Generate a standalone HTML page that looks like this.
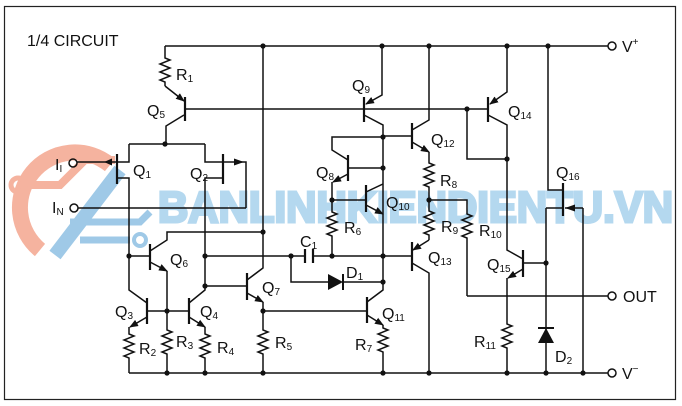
<!DOCTYPE html>
<html><head><meta charset="utf-8"><style>
html,body{margin:0;padding:0;background:#fff;}
svg{display:block;}
text{font-family:"Liberation Sans",sans-serif;fill:#111;}
</style></head><body>
<svg width="682" height="406" viewBox="0 0 682 406" xmlns="http://www.w3.org/2000/svg">
<defs>
<marker id="a" markerWidth="9" markerHeight="8" refX="8" refY="4" orient="auto" markerUnits="userSpaceOnUse"><path d="M0,0.5 L9,4 L0,7.5z" fill="#111"/></marker>
</defs>
<rect x="0" y="0" width="682" height="406" fill="#fff"/>
<g opacity="0.75">
<path d="M40 250 A52 52 0 0 1 110 165" fill="none" stroke="#f29a80" stroke-width="16"/>
<path d="M20 185 H60 L85 160 H115" fill="none" stroke="#f29a80" stroke-width="8"/>
<circle cx="18" cy="185" r="7" fill="none" stroke="#f29a80" stroke-width="5"/>
<path d="M55 255 L120 170" stroke="#7fb8df" stroke-width="14"/>
<path d="M80 240 H130 M70 222 H140 L150 212" fill="none" stroke="#7fb8df" stroke-width="7"/>
<circle cx="140" cy="240" r="6" fill="none" stroke="#7fb8df" stroke-width="4"/>
<text x="158" y="222" font-size="44" font-weight="bold" textLength="515" lengthAdjust="spacingAndGlyphs" style="fill:#9ccbea;stroke:#9ccbea;stroke-width:3">BANLINHKIENDIENTU.VN</text>
</g>
<rect x="4.5" y="6.5" width="671" height="393" fill="none" stroke="#222" stroke-width="1.2"/>
<text x="27" y="46" font-size="16">1/4 CIRCUIT</text>

<g fill="none" stroke="#111" stroke-width="1.5">
<path d="M165 46 H608 M129 373 H608 M467 296 H608"/>
<circle cx="612" cy="46" r="4"/><circle cx="612" cy="373" r="4"/><circle cx="612" cy="296" r="4"/>
<circle cx="73" cy="163" r="4"/><circle cx="74" cy="208" r="4"/>
<path d="M165 46 V58 l5 2 l-10 4 l10 4 l-10 4 l10 4 l-10 4 l5 2 V86"/>
<path d="M165 86 L184 101" marker-end="url(#a)"/>
<path d="M185 97 V121" stroke-width="2.2"/>
<path d="M184 115 L166 126 V144 M129 144 H205"/>
<path d="M185 109 H488"/>
<path d="M77 162 H117"/>
<path d="M117 154 V184" stroke-width="2.2"/>
<path d="M129 144 V162 H117 M117 178 H129 V290 L147 303"/>
<path d="M205 144 V162 H246 V208 M78 208 H246"/>
<path d="M223 154 V184" stroke-width="2.2"/>
<path d="M223 178 H205 V290 L189 303"/>
<path d="M129 256 H150"/>
<path d="M150 244 V270" stroke-width="2.2"/>
<path d="M150 251 L167 240 V232 H263"/>
<path d="M150 262 L167 271" marker-end="url(#a)"/>
<path d="M167 271 V330 l5 2 l-10 4 l10 4 l-10 4 l10 4 l-10 4 l5 2 V373"/>
<path d="M147 311 H189"/>
<path d="M147 298 V324 M189 298 V324" stroke-width="2.2"/>
<path d="M147 317 L130 327" marker-end="url(#a)"/>
<path d="M189 317 L205 327" marker-end="url(#a)"/>
<path d="M129 327 V334 l5 2 l-10 4 l10 4 l-10 4 l10 4 l-10 4 l5 2 V373"/>
<path d="M205 327 V334 l5 2 l-10 4 l10 4 l-10 4 l10 4 l-10 4 l5 2 V373"/>
<path d="M205 256 H291 M205 286 H247"/>
<path d="M247 273 V300" stroke-width="2.2"/>
<path d="M247 280 L263 268 V46"/>
<path d="M247 293 L263 302" marker-end="url(#a)"/>
<path d="M263 302 V330 l5 2 l-10 4 l10 4 l-10 4 l10 4 l-10 4 l5 2 V373 M263 311 H367"/>
<path d="M291 256 H305 M313 256 H412"/>
<path d="M305 249 V263 M313 249 V263" stroke-width="2.2"/>
<path d="M291 256 V282 H328 M343 282 H383"/>
<path d="M343 274 V290" stroke-width="2"/>
<path d="M364 97 V122" stroke-width="2.2"/>
<path d="M382 46 V95 L366 104" marker-end="url(#a)"/>
<path d="M364 115 L383 125 V290 L367 302"/>
<path d="M367 297 V323" stroke-width="2.2"/>
<path d="M367 315 L383 325" marker-end="url(#a)"/>
<path d="M383 325 V328 l5 2 l-10 4 l10 4 l-10 4 l10 4 l-10 4 l5 2 V373"/>
<path d="M332 200 H366"/>
<path d="M366 185 V212" stroke-width="2.2"/>
<path d="M366 192 L383 184"/>
<path d="M366 205 L383 214" marker-end="url(#a)"/>
<path d="M348 168 H383"/>
<path d="M348 155 V181" stroke-width="2.2"/>
<path d="M383 137 H332 V150 L348 160"/>
<path d="M348 174 L333 182" marker-end="url(#a)"/>
<path d="M332 182 V212 l5 2 l-10 4 l10 4 l-10 4 l10 4 l-10 4 l5 2 V256"/>
<path d="M383 136 H412"/>
<path d="M412 123 V149" stroke-width="2.2"/>
<path d="M412 130 L429 120 V46"/>
<path d="M412 142 L429 152" marker-end="url(#a)"/>
<path d="M429 152 V163 l5 2 l-10 4 l10 4 l-10 4 l10 4 l-10 4 l5 2 V211 l5 2 l-10 4 l10 4 l-10 4 l10 4 l-10 4 l5 2 V240"/>
<path d="M429 240 L413 250" marker-end="url(#a)"/>
<path d="M412 242 V271" stroke-width="2.2"/>
<path d="M412 263 L429 273 V373"/>
<path d="M429 200 H467 V214 l5 2 l-10 4 l10 4 l-10 4 l10 4 l-10 4 l5 2 V296"/>
<path d="M488 97 V122" stroke-width="2.2"/>
<path d="M507 46 V92 L490 104" marker-end="url(#a)"/>
<path d="M488 115 L507 125 V250 L523 259 M467 109 V159 H507"/>
<path d="M523 250 V277" stroke-width="2.2"/>
<path d="M523 269 L508 278" marker-end="url(#a)"/>
<path d="M507 278 V324 l5 2 l-10 4 l10 4 l-10 4 l10 4 l-10 4 l5 2 V373"/>
<path d="M523 263 H546"/>
<path d="M548 46 V190 H563"/>
<path d="M563 183 V216" stroke-width="2.2"/>
<path d="M583 208 H565 M546 208 H563 M546 208 V373 M583 208 V373"/>
<path d="M538 328 H554" stroke-width="2"/>
</g>
<g fill="#111">
<polygon points="104,162 112,158.5 112,165.5"/>
<polygon points="244,162 234,158.5 234,165.5"/>
<polygon points="565,208 575,204.5 575,211.5"/>
<polygon points="328,274 328,290 343,282"/>
<polygon points="538,343 554,343 546,328"/>
<circle cx="263" cy="46" r="2.6"/><circle cx="382" cy="46" r="2.6"/><circle cx="429" cy="46" r="2.6"/><circle cx="507" cy="46" r="2.6"/><circle cx="548" cy="46" r="2.6"/>
<circle cx="165" cy="144" r="2.6"/><circle cx="129" cy="256" r="2.6"/><circle cx="263" cy="232" r="2.6"/><circle cx="167" cy="311" r="2.6"/>
<circle cx="205" cy="256" r="2.6"/><circle cx="205" cy="286" r="2.6"/><circle cx="263" cy="311" r="2.6"/>
<circle cx="291" cy="256" r="2.6"/><circle cx="332" cy="256" r="2.6"/><circle cx="383" cy="256" r="2.6"/><circle cx="383" cy="282" r="2.6"/>
<circle cx="332" cy="200" r="2.6"/><circle cx="383" cy="137" r="2.6"/><circle cx="383" cy="168" r="2.6"/><circle cx="429" cy="200" r="2.6"/>
<circle cx="467" cy="109" r="2.6"/><circle cx="507" cy="159" r="2.6"/><circle cx="546" cy="263" r="2.6"/>
<circle cx="167" cy="373" r="2.6"/><circle cx="205" cy="373" r="2.6"/><circle cx="263" cy="373" r="2.6"/><circle cx="383" cy="373" r="2.6"/><circle cx="429" cy="373" r="2.6"/><circle cx="507" cy="373" r="2.6"/><circle cx="546" cy="373" r="2.6"/><circle cx="583" cy="373" r="2.6"/>
</g>
<g font-size="16">
<text x="176" y="80">R<tspan font-size="10" dy="2">1</tspan></text>
<text x="147" y="116">Q<tspan font-size="10" dy="2">5</tspan></text>
<text x="133" y="176">Q<tspan font-size="10" dy="2">1</tspan></text>
<text x="190" y="179">Q<tspan font-size="10" dy="2">2</tspan></text>
<text x="55" y="170">I<tspan font-size="10" dy="2">I</tspan></text>
<text x="52" y="213">I<tspan font-size="10" dy="2">N</tspan></text>
<text x="316" y="178">Q<tspan font-size="10" dy="2">8</tspan></text>
<text x="344" y="233">R<tspan font-size="10" dy="2">6</tspan></text>
<text x="386" y="208">Q<tspan font-size="10" dy="2">10</tspan></text>
<text x="300" y="247">C<tspan font-size="10" dy="2">1</tspan></text>
<text x="346" y="278">D<tspan font-size="10" dy="2">1</tspan></text>
<text x="352" y="91">Q<tspan font-size="10" dy="2">9</tspan></text>
<text x="431" y="145">Q<tspan font-size="10" dy="2">12</tspan></text>
<text x="508" y="117">Q<tspan font-size="10" dy="2">14</tspan></text>
<text x="440" y="186">R<tspan font-size="10" dy="2">8</tspan></text>
<text x="441" y="232">R<tspan font-size="10" dy="2">9</tspan></text>
<text x="479" y="236">R<tspan font-size="10" dy="2">10</tspan></text>
<text x="428" y="263">Q<tspan font-size="10" dy="2">13</tspan></text>
<text x="556" y="178">Q<tspan font-size="10" dy="2">16</tspan></text>
<text x="487" y="270">Q<tspan font-size="10" dy="2">15</tspan></text>
<text x="474" y="347">R<tspan font-size="10" dy="2">11</tspan></text>
<text x="555" y="362">D<tspan font-size="10" dy="2">2</tspan></text>
<text x="355" y="350">R<tspan font-size="10" dy="2">7</tspan></text>
<text x="382" y="319">Q<tspan font-size="10" dy="2">11</tspan></text>
<text x="275" y="348">R<tspan font-size="10" dy="2">5</tspan></text>
<text x="139" y="354">R<tspan font-size="10" dy="2">2</tspan></text>
<text x="176" y="347">R<tspan font-size="10" dy="2">3</tspan></text>
<text x="217" y="353">R<tspan font-size="10" dy="2">4</tspan></text>
<text x="115" y="317">Q<tspan font-size="10" dy="2">3</tspan></text>
<text x="200" y="317">Q<tspan font-size="10" dy="2">4</tspan></text>
<text x="170" y="265">Q<tspan font-size="10" dy="2">6</tspan></text>
<text x="262" y="293">Q<tspan font-size="10" dy="2">7</tspan></text>
<text x="622" y="52">V<tspan font-size="10" dy="-7">+</tspan></text>
<text x="622" y="379">V<tspan font-size="10" dy="-7">−</tspan></text>
<text x="623" y="302">OUT</text>
</g>
</svg>
</body></html>
